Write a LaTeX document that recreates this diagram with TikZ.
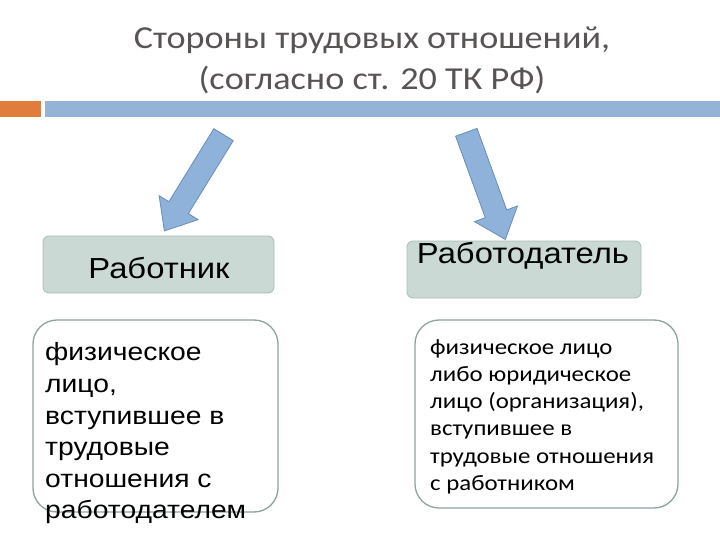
\documentclass[tikz,border=0pt]{standalone}
\usepackage{graphicx}
\usepackage{fontspec}
\setmainfont{Carlito}
\newfontfamily\arialfont{Liberation Sans}
\usetikzlibrary{shapes.arrows}
\usetikzlibrary{positioning}
\definecolor{titlegrey}{HTML}{595454}
\definecolor{barblue}{HTML}{95B3D7}
\definecolor{barorange}{HTML}{E07D3C}
\definecolor{arrowfill}{HTML}{8EB2DA}
\definecolor{arrowline}{HTML}{6A8CBC}
\definecolor{kindfill}{HTML}{CAD9D3}
\definecolor{kindline}{HTML}{A6BCB6}
\definecolor{defline}{HTML}{8CA4A0}
% the slide is a little wider than tall, so its letters are too
\newcommand{\wide}[1]{\scalebox{1.13}[1]{#1}}
\newcommand{\lines}[1]{\wide{\begin{tabular}{@{}l@{}}#1\end{tabular}}}
\tikzset{
  hdr/.style={text=titlegrey, inner sep=0pt, font=\fontsize{32}{38}\selectfont},
  bigarrow/.style={single arrow, fill=arrowfill, draw=arrowline, line width=0.8pt,
    inner xsep=0pt, inner ysep=11pt, minimum width=45pt,
    single arrow head extend=11.5pt, single arrow tip angle=80},
  kindbox/.style={rectangle, rounded corners=6pt, fill=kindfill, draw=kindline,
    line width=0.8pt, inner sep=0pt},
  kindtext/.style={inner sep=0pt, anchor=base, font=\arialfont\fontsize{29}{32}\selectfont},
  defbox/.style={rectangle, rounded corners=24pt, draw=defline, line width=1.3pt,
    fill=white, inner sep=0pt},
  deftext/.style={inner sep=0pt, anchor=north west},
}
\begin{document}
\begin{tikzpicture}[x=1pt, y=-1pt]
  \useasboundingbox (0,0) rectangle (720,540);

  % title
  \node[hdr] (ttl1) at (372,40) {\wide{Стороны трудовых отношений,}};
  \node[hdr] (ttl2) at (372,80) {\wide{(согласно ст. 20 ТК РФ)}};

  % bars under the title
  \fill[barorange] (0,101) rectangle (41,117);
  \fill[barblue] (45,101) rectangle (720,117);

  % arrows
  \node[bigarrow, minimum height=113pt, rotate=238.4] (arL) at (197.5,177) {};
  \node[bigarrow, minimum height=114pt, rotate=290] (arR) at (483.5,179.5) {};

  % the two sides
  \node[kindbox, minimum width=231pt, minimum height=57pt] (emp) at (158.5,264.5) {};
  \node[kindtext] (empT) at (159,278) {\wide{Работник}};
  \node[kindbox, minimum width=234pt, minimum height=57pt] (boss) at (524,269.5) {};
  \node[kindtext] (bossT) at (523,263) {\wide{Работодатель}};

  % definitions
  \node[defbox, minimum width=245pt, minimum height=192pt] (empD) at (155.5,416) {};
  \node[deftext, font=\arialfont\fontsize{25}{31.6}\selectfont] (empDT) at (45,338.5)
    {\lines{физическое\\ лицо,\\ вступившее в\\ трудовые\\ отношения с\\ работодателем}};
  \node[defbox, minimum width=263pt, minimum height=188pt] (bossD) at (546.5,414) {};
  \node[deftext, font=\fontsize{22}{27.2}\selectfont] (bossDT) at (430,335)
    {\lines{физическое лицо\\ либо юридическое\\ лицо (организация),\\ вступившее в\\ трудовые отношения\\ с работником}};
\end{tikzpicture}
\end{document}
